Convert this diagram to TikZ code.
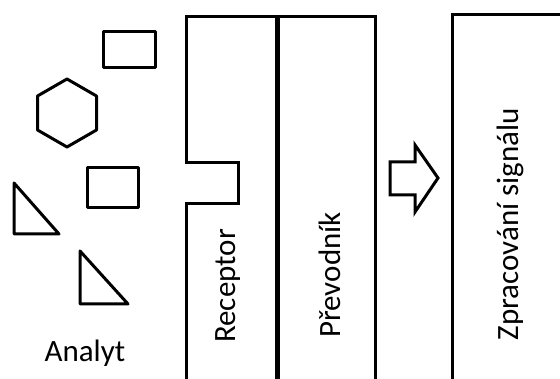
\documentclass[tikz,border=0pt]{standalone}
\usepackage{fontspec}
\setmainfont{Carlito}
\begin{document}
\begin{tikzpicture}[x=1pt,y=1pt,
  outline/.style={draw=black,line width=3pt,line join=miter},
  shapeln/.style={draw=black,line width=3pt,line join=round},
  lbl/.style={font=\fontsize{31}{36}\selectfont,inner sep=0pt}]
\useasboundingbox (0,0) rectangle (560,-379);
\clip (0,0) rectangle (560,-379);
% analyte shapes
\draw[shapeln] (103,-32) rectangle (155,-68);
\draw[shapeln] (67,-79) -- (96.5,-96) -- (96.5,-130) -- (67,-147) -- (37.5,-130) -- (37.5,-96) -- cycle;
\draw[shapeln] (87,-168) rectangle (138,-208);
\draw[shapeln] (14,-183) -- (14,-234) -- (59,-234) -- cycle;
\draw[shapeln] (80,-251) -- (80,-304) -- (128,-304) -- cycle;
\node[lbl] (analyt) at (85,-353) {Analyt};
% receptor + transducer
\draw[outline] (186,-385) -- (186,-204) -- (238,-204) -- (238,-163) -- (186,-163) -- (186,-17) -- (375,-17) -- (375,-385);
\draw[black,line width=5pt] (277,-17) -- (277,-385);
\node[lbl,rotate=90] (receptor) at (228,-286) {Receptor};
\node[lbl,rotate=90] (prevodnik) at (330,-275) {Převodník};
% arrow
\draw[shapeln,line join=miter] (390,-162) -- (415,-162) -- (415,-145) -- (438,-178) -- (415,-212) -- (415,-195) -- (390,-195) -- cycle;
% signal processing
\draw[outline] (452,-385) -- (452,-15) -- (570,-15);
\node[lbl,rotate=90] (zprac) at (510,-224) {Zpracování signálu};
\end{tikzpicture}
\end{document}
